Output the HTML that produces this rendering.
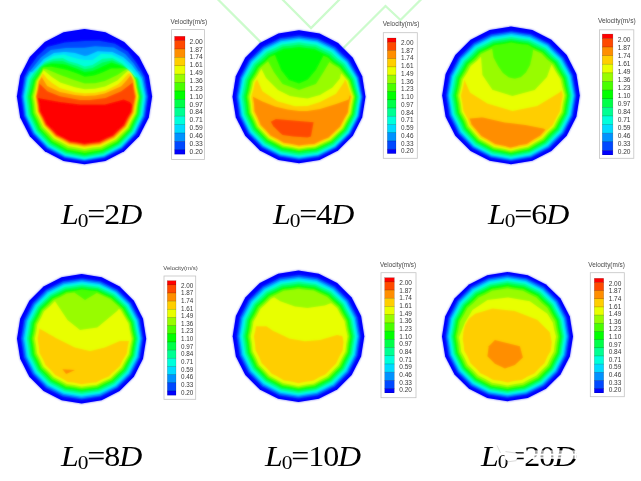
<!DOCTYPE html>
<html><head><meta charset="utf-8"><title>Velocity contours</title>
<style>
html,body{margin:0;padding:0;background:#fff;}
body{width:641px;height:481px;overflow:hidden;position:relative;font-family:"Liberation Sans",sans-serif;}
svg{position:absolute;left:0;top:0;}
svg text{font-family:"Liberation Sans",sans-serif;}
.lb{position:absolute;font-family:"Liberation Serif",serif;font-size:29.1px;line-height:1;white-space:nowrap;color:#000;letter-spacing:-1px;transform-origin:0 0;transform:scaleX(1.1);filter:blur(0.35px);}
.lb i{font-style:italic;}
.lb sub{font-size:19.5px;vertical-align:baseline;position:relative;top:2.9px;line-height:0;}
</style></head><body>
<svg width="641" height="481" viewBox="0 0 641 481">
<defs>
<filter id="bl" x="-5%" y="-5%" width="110%" height="110%"><feGaussianBlur stdDeviation="0.9"/></filter>
<filter id="bt" x="-5%" y="-20%" width="110%" height="140%"><feGaussianBlur stdDeviation="0.35"/></filter>
<filter id="bw" x="-5%" y="-20%" width="110%" height="140%"><feGaussianBlur stdDeviation="0.25"/></filter>
<filter id="bg" x="-5%" y="-5%" width="110%" height="110%"><feGaussianBlur stdDeviation="0.45"/></filter>
</defs>
<rect width="641" height="481" fill="#fff"/>
<g fill="none" stroke="#ccfbcc" stroke-width="2.3" stroke-linejoin="miter" filter="url(#bg)">
<polyline points="217.5,-1 262,43.5"/>
<polyline points="282,-1 311,28 340.5,-1.5"/>
<polyline points="343.5,48 385.5,6 400.5,20 422,-1.5"/>
</g>

<g id="pl1"><path d="M152.1,96.6 148.8,117.5 139.2,136.3 124.2,151.3 105.4,160.9 84.5,164.2 63.6,160.9 44.8,151.3 29.8,136.3 20.2,117.5 16.9,96.6 20.2,75.7 29.8,56.9 44.8,41.9 63.6,32.3 84.5,29.0 105.4,32.3 124.2,41.9 139.2,56.9 148.8,75.7Z" fill="#0000ff"/>
<path d="M98.9,40.7 84.6,41.0 65.1,42.5 47.4,47.1 37.4,56.2 29.0,68.0 24.4,77.0 21.4,96.0 21.5,97.5 24.1,116.0 32.9,134.2 47.2,148.7 64.7,157.7 83.9,161.0 85.4,160.9 104.4,157.7 121.9,148.7 122.4,148.2 136.4,134.0 145.1,116.5 148.1,96.8 144.6,76.8 140.8,69.8 136.4,62.7 127.7,51.5 114.9,43.7Z" fill="#0049ff"/>
<path d="M95.2,46.3 84.4,47.8 65.9,48.0 50.9,50.1 40.9,57.6 30.4,70.5 29.9,71.0 29.2,71.2 25.7,77.5 22.6,96.5 25.2,115.8 33.7,133.3 47.3,147.5 64.9,156.9 84.4,160.2 104.2,156.9 121.7,147.7 135.4,133.5 144.0,116.0 146.8,96.8 143.1,77.5 139.2,71.0 138.7,71.0 138.4,70.8 133.7,63.6 125.2,53.9 113.7,47.5Z" fill="#0092ff"/>
<path d="M97.7,51.3 87.7,55.5 84.7,56.0 74.9,53.0 65.9,52.1 63.7,52.1 53.9,53.0 43.9,59.1 32.2,71.8 31.9,72.0 30.4,72.0 27.0,78.0 23.7,96.5 26.2,115.5 34.5,132.8 47.9,146.8 65.2,156.0 84.4,159.4 103.9,156.0 121.2,146.9 134.4,133.1 142.9,115.5 145.5,96.5 142.2,80.0 141.7,78.2 137.4,72.1 136.6,71.5 131.9,64.9 123.4,57.3 112.4,51.9Z" fill="#00dbff"/>
<path d="M101.4,53.8 92.4,60.0 84.4,60.0 77.6,58.8 68.9,56.3 63.7,54.4 53.7,55.7 45.9,60.6 33.4,73.0 31.7,73.0 28.3,78.2 24.9,96.8 27.3,115.2 35.4,132.2 48.7,146.1 65.4,155.2 84.4,158.7 103.7,155.2 120.7,146.0 133.7,132.2 141.8,115.2 144.2,96.5 140.8,80.5 140.0,78.5 135.7,73.1 130.2,67.2 122.4,60.0 111.4,54.5Z" fill="#00ffdb"/>
<path d="M62.7,58.1 53.7,58.8 44.4,62.3 33.9,72.8 29.9,79.0 26.3,96.8 28.6,114.8 36.5,131.5 49.2,145.0 65.7,154.0 84.4,157.6 103.2,154.2 119.9,145.2 132.7,131.8 140.7,114.8 143.0,96.5 139.5,81.0 138.8,79.0 137.2,77.0 135.2,77.0 132.6,73.8 122.4,63.6 112.4,58.0 102.4,58.8 92.4,65.0 84.7,66.4 77.2,63.6 68.8,61.2Z" fill="#00ff92"/>
<path d="M111.4,60.4 102.4,62.6 92.4,68.0 84.7,69.3 77.4,66.3 68.9,63.6 65.9,62.3 62.4,61.1 53.9,61.2 50.9,61.7 44.4,63.9 39.2,67.8 38.7,69.2 31.8,79.5 27.9,96.5 30.1,114.2 37.7,130.5 50.2,143.8 66.2,152.7 84.7,156.2 102.9,152.9 118.9,144.3 131.7,130.9 139.4,114.5 141.7,96.8 137.9,79.5 136.3,77.2 134.9,77.0 132.4,73.8 126.9,68.3 122.7,65.0 112.7,60.5Z" fill="#00ff49"/>
<path d="M111.4,62.6 102.7,66.2 98.7,68.3 92.4,70.9 84.7,72.1 76.9,68.7 66.2,64.8 62.4,64.1 53.9,63.6 50.9,63.6 44.4,65.6 41.5,67.0 40.7,70.3 33.7,80.2 29.6,96.5 30.8,105.5 31.6,113.8 39.1,129.8 44.7,135.5 51.2,142.7 58.7,146.7 66.7,151.3 84.7,154.9 102.4,151.6 118.2,143.2 130.7,130.0 138.3,114.0 139.3,105.2 140.5,96.8 136.8,79.8 135.4,77.5 134.7,77.0 132.4,74.0 126.9,68.5 122.4,65.9 112.7,62.9Z" fill="#00ff00"/>
<path d="M51.2,66.7 44.2,67.3 42.9,67.5 42.7,67.8 41.9,71.0 35.2,80.8 31.2,96.8 32.3,104.8 33.1,113.2 36.8,120.8 40.2,128.5 52.0,141.2 59.8,145.5 67.2,149.7 84.7,153.1 93.3,151.5 101.9,150.1 109.7,145.9 117.3,142.0 129.6,129.2 133.3,121.2 137.1,113.8 138.2,105.2 139.5,96.5 137.7,88.8 135.9,79.8 132.7,74.5 127.7,69.4 126.9,68.9 122.7,68.2 117.4,68.5 111.4,68.5 104.9,71.6 98.9,74.1 95.2,75.3 91.9,76.1 84.7,76.8 76.9,73.6 65.9,69.7Z" fill="#49ff00"/>
<path d="M43.2,68.9 42.3,71.5 36.2,81.0 34.6,88.8 32.6,96.5 33.9,105.0 34.6,112.8 38.2,120.0 41.7,127.8 47.1,133.2 53.2,139.9 60.1,143.5 67.9,148.0 75.4,149.2 84.7,151.1 92.7,149.6 101.4,148.4 108.9,144.4 116.4,140.7 128.6,128.5 132.0,121.2 136.2,113.4 137.3,105.2 138.7,96.5 136.8,88.0 135.4,80.0 131.7,73.5 127.7,69.5 124.1,70.5 117.4,75.0 104.9,81.0 95.2,83.3 84.7,83.5 72.5,79.5 60.2,75.1 47.4,69.5 43.9,68.8Z" fill="#98fc00"/>
<path d="M43.4,70.3 41.2,74.7 37.2,81.2 35.9,88.8 34.1,96.5 35.3,104.5 36.1,112.2 39.7,119.2 43.1,126.8 48.5,132.2 54.2,138.4 61.4,142.1 68.4,146.1 76.4,147.4 84.4,149.0 92.9,147.6 100.7,146.7 108.2,142.9 115.7,139.3 120.9,134.0 127.5,127.8 131.0,120.8 135.2,113.0 136.3,105.2 138.0,96.5 136.0,87.5 134.8,80.2 130.9,73.0 129.2,71.2 128.2,71.0 127.4,71.2 123.9,74.2 117.4,80.4 105.2,86.6 94.9,88.8 84.7,89.2 74.9,87.3 60.2,82.4 51.9,77.1 43.9,70.5Z" fill="#e8ff00"/>
<path d="M129.2,73.2 127.9,74.0 121.4,81.2 117.7,84.5 105.2,90.8 94.9,92.8 84.7,93.3 74.9,92.2 59.9,87.9 52.2,82.9 47.2,78.8 43.9,74.5 42.9,73.5 42.7,73.6 38.0,81.5 36.9,88.5 35.2,96.7 36.4,104.0 37.3,112.0 40.8,118.8 44.1,126.0 49.4,131.2 55.0,137.2 61.9,140.8 68.9,144.7 76.7,145.8 84.4,147.4 92.4,146.2 100.4,145.3 107.4,141.7 114.7,138.4 120.7,132.5 126.6,127.0 130.1,120.0 134.2,112.8 135.4,105.2 137.1,96.5 135.2,87.5 134.2,80.5 130.7,73.7 130.4,73.4Z" fill="#ffce00"/>
<path d="M130.4,75.4 126.9,80.1 121.2,86.3 105.9,93.1 104.7,93.6 95.2,95.5 84.7,96.0 74.7,94.9 59.9,92.0 47.2,86.1 41.7,77.0 38.8,81.8 37.6,89.0 35.9,96.5 37.2,104.2 38.1,111.8 41.5,118.2 44.9,125.5 50.3,130.8 55.4,136.3 62.9,140.1 69.2,143.6 76.9,144.8 84.4,146.3 92.4,145.0 99.9,144.2 107.2,140.6 114.2,137.5 119.9,131.7 125.7,126.5 129.2,119.5 133.2,112.5 134.4,104.8 136.1,96.5 134.3,87.8 133.3,80.8 130.7,75.5Z" fill="#ff8e00"/>
<path d="M132.7,82.4 121.2,91.3 105.4,97.9 89.9,100.0 79.9,100.0 59.9,96.2 47.4,91.2 39.4,83.4 38.0,90.5 36.6,96.5 37.9,104.0 38.8,111.5 42.2,117.8 45.6,125.0 50.9,130.0 56.2,135.7 62.7,138.8 69.7,142.7 77.2,143.7 84.4,145.1 92.2,143.9 99.7,143.2 106.2,139.9 113.6,136.5 118.4,131.7 124.9,125.8 128.2,119.2 132.3,112.0 133.4,104.5 135.1,96.8 133.6,88.8Z" fill="#ff4800"/>
<path d="M37.8,98.5 38.8,104.2 39.6,111.2 43.1,117.5 46.2,124.2 51.7,129.5 56.7,134.8 63.2,137.9 69.9,141.6 77.4,142.6 84.4,144.0 91.4,142.9 99.4,142.1 106.2,138.6 112.9,135.7 117.4,131.2 124.0,125.2 127.2,118.8 131.3,111.8 132.3,105.2 132.0,104.5 129.9,101.9 123.7,99.4 104.9,104.4 80.2,104.5 60.1,102.0 37.9,98.1Z" fill="#ff0000"/></g><use href="#pl1" filter="url(#bl)" opacity="0.6"/>
<g id="pl2"><path d="M365.5,96.8 362.2,117.3 352.8,135.8 338.1,150.5 319.5,160.0 299.0,163.2 278.5,160.0 259.9,150.5 245.2,135.8 235.8,117.3 232.5,96.8 235.8,76.2 245.2,57.7 259.9,43.0 278.5,33.5 299.0,30.2 319.5,33.5 338.1,43.0 352.8,57.7 362.2,76.2Z" fill="#0000ff"/>
<path d="M299.2,35.6 280.0,38.3 263.0,46.8 249.1,60.2 239.9,77.5 236.5,96.8 239.4,116.0 248.1,133.5 261.9,147.5 279.5,156.6 299.0,159.7 318.5,156.9 336.0,148.1 350.2,134.1 359.4,116.2 362.6,96.8 358.7,77.0 349.1,60.2 341.9,53.8 335.2,47.1 317.8,38.4 307.8,37.0Z" fill="#0049ff"/>
<path d="M299.0,37.2 280.5,39.8 263.8,48.1 250.2,61.0 241.1,78.0 237.8,96.8 240.6,115.8 249.2,133.0 262.5,146.5 280.0,155.6 299.0,158.7 318.2,155.8 335.5,147.2 349.5,133.5 358.5,116.0 361.7,96.8 357.8,77.8 347.9,61.0 340.8,54.8 334.2,48.3 317.5,39.9Z" fill="#0092ff"/>
<path d="M299.0,38.8 281.0,41.3 264.5,49.2 251.2,62.0 242.4,78.2 239.0,96.8 241.7,115.2 250.0,132.2 263.2,145.8 280.2,154.6 299.0,157.7 318.0,154.9 334.9,146.5 348.7,133.0 357.7,115.7 360.8,96.8 356.6,77.8 347.0,61.9 339.8,55.8 333.5,49.6 317.0,41.4Z" fill="#00dbff"/>
<path d="M299.0,40.3 281.5,42.7 265.5,50.4 252.4,62.8 243.6,78.8 240.2,96.8 242.8,115.0 250.9,131.5 263.8,144.8 280.5,153.6 299.0,156.6 317.5,154.0 334.3,145.8 348.0,132.5 356.8,115.5 359.9,96.8 355.7,78.2 345.8,62.5 338.8,56.9 332.5,50.7 316.5,42.8Z" fill="#00ffdb"/>
<path d="M299.0,42.3 282.0,44.5 274.5,48.2 266.5,51.8 260.1,58.0 253.7,63.8 245.1,79.2 241.6,96.8 244.1,114.5 252.0,130.8 264.6,143.8 281.0,152.3 299.0,155.4 317.2,152.8 333.8,144.8 347.0,131.9 355.7,115.2 358.9,96.8 354.5,78.8 344.5,63.6 337.5,58.2 331.2,52.1 323.5,48.5 316.0,44.7 307.0,43.5Z" fill="#00ff92"/>
<path d="M299.0,44.6 290.5,45.8 282.8,46.6 275.2,50.2 267.8,53.6 261.6,59.5 255.3,65.0 251.3,72.2 246.9,79.8 245.3,88.2 243.4,96.8 244.7,105.2 245.7,114.0 253.3,129.8 265.6,142.5 281.5,150.9 299.0,153.8 316.8,151.4 333.0,143.6 346.0,131.0 354.5,114.8 357.6,96.8 353.0,79.2 342.9,64.8 336.0,59.8 330.0,53.9 322.5,50.5 315.2,46.8 307.0,45.9Z" fill="#00ff49"/>
<path d="M299.0,46.9 291.0,48.0 283.5,48.7 276.1,52.2 269.0,55.3 263.0,61.0 257.0,66.1 253.2,73.0 248.6,80.5 247.1,88.2 245.1,96.8 246.4,105.0 247.3,113.5 251.1,121.0 254.6,128.8 266.5,141.2 282.0,149.4 290.5,150.7 299.0,152.3 307.5,151.1 316.2,150.0 332.1,142.5 344.9,130.2 353.2,114.4 356.3,96.8 351.5,79.8 341.5,66.0 334.5,61.3 328.8,55.7 321.5,52.4 314.5,48.9 306.5,48.1Z" fill="#00ff00"/>
<path d="M274.8,55.1 270.0,57.0 264.5,62.2 258.4,67.2 254.8,73.8 250.3,81.0 248.8,88.5 246.8,96.8 247.9,104.8 248.8,113.0 252.5,120.5 255.9,128.0 267.5,140.2 274.2,143.6 282.5,148.1 290.8,149.3 299.0,150.9 307.2,149.7 315.8,148.8 331.5,141.4 343.9,129.5 352.1,114.0 353.5,105.5 355.1,96.8 350.1,80.0 340.0,67.0 333.0,62.6 327.8,57.4 323.5,55.7 316.2,69.8 308.2,79.2 307.2,80.1 299.2,83.6 298.8,83.6 288.7,80.0 281.1,70.2Z" fill="#49ff00"/>
<path d="M268.0,61.4 259.8,68.2 256.1,74.8 251.9,81.2 250.1,89.5 248.2,96.8 249.4,104.5 250.2,112.5 253.8,120.0 257.0,127.3 268.2,139.1 275.5,142.8 282.8,146.8 290.8,148.0 299.0,149.7 307.0,148.5 315.5,147.6 323.0,144.0 330.8,140.5 343.1,128.8 346.9,121.2 351.1,113.8 352.5,105.0 354.1,96.8 348.9,80.5 347.7,79.0 338.7,68.0 331.9,64.0 329.5,61.9 323.6,72.0 316.0,84.0 299.0,90.0 282.5,84.0 273.8,72.1 268.2,61.5Z" fill="#98fc00"/>
<path d="M261.0,69.5 257.7,75.2 253.3,82.0 251.8,89.0 249.7,96.8 250.8,104.0 251.6,112.2 254.9,119.0 258.0,126.2 269.0,138.0 275.8,141.4 283.2,145.6 291.0,146.8 299.0,148.4 306.8,147.3 315.0,146.5 322.8,142.8 330.1,139.5 342.2,128.0 345.8,121.0 350.1,113.2 351.4,105.0 353.0,96.8 349.7,87.5 347.7,81.0 341.2,73.6 341.0,73.8 340.8,74.5 340.0,78.6 332.5,87.5 320.0,95.0 307.5,98.5 299.0,97.5 290.0,96.0 278.0,90.0 266.0,78.0 261.5,69.0Z" fill="#e8ff00"/>
<path d="M257.2,79.2 254.9,82.5 253.4,89.2 251.2,96.8 252.3,104.0 252.9,111.8 256.1,118.2 259.2,125.6 269.8,136.8 277.0,140.5 283.5,144.2 291.5,145.5 299.0,147.1 306.6,146.0 314.8,145.3 321.8,141.9 329.2,138.6 341.1,127.5 345.1,119.8 349.0,113.0 350.2,105.0 351.9,96.8 348.5,87.8 346.4,81.5 344.8,79.5 344.2,81.9 336.0,93.8 320.0,102.0 307.5,106.0 295.0,106.2 277.5,101.2 262.5,91.3 257.5,80.2Z" fill="#ffce00"/>
<path d="M350.0,95.0 349.3,96.8 348.8,99.2 348.0,99.8 347.5,99.8 347.3,100.0 336.1,104.0 320.0,109.0 307.5,111.0 299.0,111.0 287.5,109.5 275.0,106.5 262.5,101.5 253.0,96.8 253.0,97.5 253.2,98.0 253.5,100.8 253.7,101.2 253.8,102.8 254.0,103.2 254.5,111.3 258.0,118.2 258.2,119.3 259.5,121.8 259.5,122.3 260.0,123.0 260.5,124.8 265.5,129.8 270.5,135.5 278.5,139.5 283.8,142.8 290.8,143.8 299.0,145.5 300.0,145.5 300.2,145.3 301.5,145.2 302.0,145.0 303.5,145.0 303.8,144.8 305.5,144.8 306.0,144.5 307.8,144.5 308.2,144.3 314.0,144.0 322.2,140.0 328.0,137.8 328.5,137.5 335.5,130.8 340.0,126.8 344.5,118.0 347.8,112.6 349.0,104.0 349.2,103.6 350.0,99.0 350.2,98.8 350.3,97.8 350.5,97.5 350.5,96.2 350.0,95.5Z" fill="#ff8e00"/>
<path d="M273.3,126.3 279.3,132.3 282.5,135.0 293.0,136.6 307.5,137.5 311.0,136.6 313.6,122.3 275.9,118.9 270.7,121.7Z" fill="#ff4800"/></g><use href="#pl2" filter="url(#bl)" opacity="0.6"/>
<g id="pl3"><path d="M579.8,95.4 576.4,116.7 566.7,135.8 551.4,151.1 532.3,160.8 511.0,164.2 489.7,160.8 470.6,151.1 455.3,135.8 445.6,116.7 442.2,95.4 445.6,74.1 455.3,55.0 470.6,39.7 489.7,30.0 511.0,26.6 532.3,30.0 551.4,39.7 566.7,55.0 576.4,74.1Z" fill="#0000ff"/>
<path d="M511.4,31.2 491.2,34.2 473.7,43.1 473.2,43.4 459.0,57.5 449.6,75.4 446.2,95.4 449.3,115.3 449.5,115.9 454.9,126.3 458.3,133.4 472.6,148.1 490.7,157.6 510.9,161.0 531.2,157.6 549.5,148.0 563.7,133.6 572.8,115.9 576.2,95.4 572.6,75.1 563.4,57.6 549.0,43.4 531.0,34.2Z" fill="#0049ff"/>
<path d="M511.2,32.6 491.7,35.7 474.2,44.5 467.2,51.6 460.1,58.4 450.9,75.9 447.5,95.4 450.6,115.1 456.1,125.9 459.4,132.9 473.2,147.1 491.2,156.6 510.9,159.9 531.0,156.5 548.7,147.0 555.5,140.0 562.7,132.9 571.7,115.4 575.0,95.4 571.5,75.6 562.2,58.3 555.0,51.4 548.2,44.6 530.5,35.6Z" fill="#0092ff"/>
<path d="M511.2,34.1 491.9,37.1 475.0,45.8 468.2,52.6 461.3,59.1 452.1,76.4 448.7,95.4 451.8,114.6 457.2,125.1 460.4,132.1 473.9,146.3 491.5,155.5 510.9,158.9 530.5,155.5 548.0,146.1 554.6,139.1 561.7,132.2 570.7,114.9 573.9,95.4 570.4,76.1 561.1,59.1 554.0,52.4 547.3,45.6 530.0,36.9Z" fill="#00dbff"/>
<path d="M511.2,35.5 492.4,38.4 475.7,47.0 469.3,53.6 462.5,60.0 453.4,76.6 450.0,95.4 453.0,114.4 458.3,124.6 461.4,131.4 474.6,145.4 491.7,154.5 510.9,157.9 530.2,154.4 547.4,145.1 553.9,138.1 560.7,131.6 569.5,114.6 572.8,95.4 569.1,76.4 560.0,59.9 553.0,53.4 546.5,46.7 529.5,38.3Z" fill="#00ffdb"/>
<path d="M511.2,37.1 492.9,40.0 484.9,44.2 476.9,48.1 470.3,54.9 463.8,60.9 454.8,77.1 451.4,95.4 454.3,113.9 459.5,123.9 462.4,130.4 475.4,144.4 492.2,153.4 511.0,156.8 529.7,153.3 546.5,144.1 552.8,137.4 559.7,130.6 568.3,114.1 571.5,95.4 567.8,76.9 558.7,60.6 552.0,54.5 545.6,48.1 529.0,39.8 520.0,38.6Z" fill="#00ff92"/>
<path d="M511.2,38.9 493.5,41.7 486.2,45.6 477.7,49.8 471.7,56.0 465.2,61.9 456.4,77.6 454.8,86.6 453.0,95.4 455.8,113.4 460.9,123.1 463.7,129.6 476.2,143.1 492.7,152.1 510.9,155.5 529.5,151.9 545.7,142.9 551.9,136.1 558.5,129.9 562.5,121.9 567.0,113.6 570.1,95.4 566.4,77.3 561.7,69.4 557.5,61.7 550.7,55.7 544.5,49.4 536.7,45.7 528.5,41.5 519.7,40.3Z" fill="#00ff49"/>
<path d="M511.2,40.7 502.9,42.2 493.9,43.5 486.4,47.5 478.9,51.1 472.9,57.4 466.4,63.1 462.4,70.6 458.0,78.1 456.4,86.9 454.5,95.4 456.1,104.4 457.3,112.9 462.3,122.3 464.9,128.7 476.9,141.9 493.0,150.8 511.0,154.2 529.0,150.7 537.2,145.9 544.7,141.9 550.8,135.1 557.2,129.0 561.4,120.9 565.5,113.4 568.6,95.4 566.6,86.3 564.9,77.9 560.4,70.4 556.1,62.6 549.5,56.9 543.5,50.9 535.2,46.9 528.0,43.2 519.5,42.1Z" fill="#00ff00"/>
<path d="M511.2,42.5 503.4,43.9 494.5,45.2 487.2,49.1 480.0,52.6 474.2,58.6 467.9,64.0 463.8,71.6 459.6,78.6 458.0,87.1 456.1,95.3 457.7,104.1 458.8,112.4 463.7,121.6 466.2,127.9 477.9,140.9 485.7,145.1 493.4,149.5 502.0,151.0 511.0,152.9 520.5,150.9 528.5,149.4 544.0,140.6 549.7,134.1 556.1,128.1 560.0,120.4 564.1,112.9 567.2,95.4 565.1,86.4 563.5,78.4 559.0,71.1 554.7,63.6 548.3,58.1 542.5,52.2 534.5,48.5 527.5,44.8 519.2,43.9Z" fill="#49ff00"/>
<path d="M492.0,48.7 480.9,54.1 475.5,59.9 469.3,65.1 465.5,72.1 461.2,79.1 459.6,87.4 457.7,95.4 459.2,103.8 460.3,111.9 465.1,120.9 467.5,127.1 478.7,139.7 486.4,143.9 493.7,148.2 502.9,149.9 510.9,151.7 519.7,149.7 528.2,148.0 535.2,143.8 543.1,139.4 548.7,132.9 554.7,127.4 558.8,119.4 562.8,112.4 564.2,103.6 565.8,95.4 563.6,86.6 562.0,78.9 557.3,71.4 553.4,64.6 547.1,59.4 541.4,53.6 533.2,49.8 532.4,55.1 530.1,64.9 526.0,72.6 521.0,77.1 520.5,77.2 515.0,78.8 508.9,77.5 502.9,73.0 498.0,66.1 493.5,57.4 492.2,49.3Z" fill="#98fc00"/>
<path d="M480.7,57.0 476.7,61.2 470.8,66.1 467.0,72.9 462.8,79.6 461.2,87.6 459.3,95.4 460.8,103.6 461.8,111.4 466.5,120.1 468.7,126.1 479.7,138.7 486.7,142.5 494.2,146.9 502.7,148.5 510.9,150.4 520.0,148.3 527.7,146.8 535.0,142.3 542.2,138.3 547.7,131.9 553.7,126.4 557.3,119.1 561.4,111.9 562.7,103.6 564.4,95.4 562.1,86.9 560.5,79.4 555.8,72.1 552.1,65.6 551.2,64.9 551.0,65.1 551.0,66.1 547.0,77.0 534.7,89.9 512.5,96.0 493.1,90.1 492.4,89.9 492.2,89.6 482.4,75.0 481.0,56.9Z" fill="#e8ff00"/>
<path d="M464.7,79.9 464.4,80.4 462.9,87.6 460.9,95.4 462.4,103.4 463.4,110.9 467.8,119.1 469.9,125.1 480.4,137.4 487.7,141.3 494.7,145.6 502.4,147.0 510.9,149.0 519.5,147.0 527.3,145.4 534.5,140.9 541.2,137.1 546.4,130.9 552.4,125.4 556.0,118.4 560.0,111.3 561.2,103.4 562.8,95.4 561.5,90.5 561.2,90.5 559.5,92.6 537.2,106.0 512.5,111.0 487.4,103.6 470.7,92.9 469.9,92.2 465.2,81.4Z" fill="#ffce00"/>
<path d="M481.2,117.4 470.2,118.4 469.7,118.6 469.7,119.1 469.9,119.4 469.9,119.9 470.2,120.1 470.2,120.6 470.4,120.9 470.5,121.4 470.7,121.6 471.4,124.2 481.4,136.1 487.7,139.4 495.2,144.1 502.5,145.4 502.7,145.6 504.7,145.9 504.9,146.1 505.7,146.1 506.0,146.4 506.7,146.4 510.0,147.4 510.7,147.4 510.9,147.6 514.0,146.7 514.7,146.6 515.0,146.4 517.7,145.9 518.0,145.6 526.8,143.9 533.2,139.7 540.4,135.6 545.5,129.4 543.2,128.4 525.5,124.9 504.7,122.4 482.9,117.4Z" fill="#ff8e00"/></g><use href="#pl3" filter="url(#bl)" opacity="0.6"/>
<g id="pl4"><path d="M146.2,338.8 143.0,358.7 133.9,376.7 119.6,391.0 101.6,400.2 81.6,403.4 61.6,400.2 43.6,391.0 29.3,376.7 20.2,358.7 17.0,338.8 20.2,318.8 29.3,300.8 43.6,286.5 61.6,277.3 81.6,274.1 101.6,277.3 119.6,286.5 133.9,300.8 143.0,318.8Z" fill="#0000ff"/>
<path d="M79.7,278.7 63.0,281.3 46.2,289.7 32.8,303.1 24.1,319.9 21.0,338.6 23.9,357.4 32.4,374.1 32.8,374.6 46.0,387.9 62.8,396.5 81.5,399.6 100.8,396.6 117.5,388.1 131.0,374.7 139.9,357.6 142.9,338.6 139.7,319.6 130.9,302.9 117.5,289.8 100.5,281.2 82.2,278.5Z" fill="#0049ff"/>
<path d="M81.8,279.9 63.5,282.7 47.0,291.0 34.0,304.0 25.5,320.4 22.5,338.6 25.4,357.1 33.8,373.6 46.8,386.7 63.1,395.1 81.5,398.2 100.1,395.4 116.8,387.0 130.0,374.0 138.6,357.4 141.7,338.6 138.5,320.1 129.8,303.6 116.7,290.9 99.8,282.5Z" fill="#0092ff"/>
<path d="M81.8,281.4 63.8,284.2 48.0,292.2 35.1,304.9 26.9,320.9 24.0,338.6 26.7,356.6 35.0,372.9 47.5,385.6 63.5,393.8 81.5,396.8 99.8,394.1 116.0,386.0 128.8,373.4 137.5,356.9 140.5,338.6 137.2,320.4 128.8,304.5 115.8,291.9 99.5,284.0Z" fill="#00dbff"/>
<path d="M81.8,282.9 64.2,285.6 48.8,293.4 36.4,305.6 28.2,321.4 25.4,338.6 28.0,356.1 36.0,372.0 48.3,384.4 64.0,392.6 81.5,395.5 99.2,392.9 115.2,385.0 127.8,372.6 136.3,356.6 139.4,338.6 136.1,320.9 127.8,305.3 115.0,293.1 99.0,285.3Z" fill="#00ffdb"/>
<path d="M81.8,284.5 64.8,287.1 57.2,291.0 49.8,294.7 37.6,306.6 29.7,321.9 28.4,330.1 26.9,338.6 29.4,355.6 37.2,371.1 49.2,383.3 64.5,391.2 81.5,394.1 99.0,391.5 114.4,383.9 126.8,371.9 135.1,356.1 138.1,338.6 134.9,321.4 126.7,306.1 114.1,294.1 98.5,286.7Z" fill="#00ff92"/>
<path d="M81.8,286.2 65.2,288.7 58.0,292.5 50.8,296.0 38.8,307.6 35.1,315.1 31.2,322.4 30.0,330.4 28.5,338.6 29.9,347.4 31.0,355.1 38.5,370.2 50.2,382.1 57.5,385.8 65.0,389.8 73.2,391.1 81.5,392.6 98.5,390.1 105.9,386.4 113.5,382.8 125.8,371.0 133.9,355.6 136.8,338.6 133.5,321.6 125.4,306.9 119.0,301.1 113.2,295.5 98.0,288.3 89.5,287.3Z" fill="#00ff49"/>
<path d="M81.8,287.9 74.0,289.2 65.8,290.3 58.9,293.9 51.8,297.3 45.4,303.6 40.2,308.5 36.4,316.1 32.7,322.9 31.6,330.6 30.1,338.6 32.6,354.9 36.2,361.9 39.6,369.1 45.5,375.0 51.0,380.8 58.5,384.6 65.5,388.4 73.5,389.6 81.5,391.1 98.0,388.8 105.1,385.1 112.8,381.6 118.5,375.9 124.6,370.1 132.6,355.4 135.5,338.6 133.8,330.4 132.3,322.4 124.1,307.6 118.0,302.1 112.2,296.6 104.5,293.2 97.5,289.8 89.2,289.0Z" fill="#00ff00"/>
<path d="M81.8,289.6 74.0,290.9 66.2,291.9 59.6,295.4 52.7,298.6 46.8,304.6 41.5,309.6 38.0,316.6 34.3,323.4 33.2,331.1 31.7,338.6 33.0,346.1 34.1,354.4 37.5,360.9 41.0,368.4 46.5,373.8 51.8,379.4 59.5,383.4 66.0,386.9 73.8,388.1 81.5,389.6 89.5,388.4 97.5,387.4 104.2,384.0 112.0,380.4 117.5,374.9 123.5,369.4 127.5,361.6 131.3,354.9 132.5,347.4 134.2,338.6 132.5,330.6 131.0,322.6 126.9,315.6 123.1,308.6 116.9,303.1 111.4,297.9 103.5,294.5 97.0,291.3 89.0,290.6Z" fill="#49ff00"/>
<path d="M74.5,292.6 66.8,293.5 60.3,296.9 53.5,300.1 48.5,305.2 42.7,310.6 39.6,317.1 35.8,323.9 34.8,331.4 33.3,338.6 34.6,346.4 35.5,353.6 39.0,360.4 42.2,367.4 47.6,372.6 52.8,378.2 60.0,381.9 66.2,385.4 74.5,386.7 81.5,388.1 89.2,386.9 97.0,386.0 103.8,382.6 111.0,379.3 116.8,373.7 122.3,368.6 129.9,354.6 132.9,338.6 131.1,330.6 129.7,323.1 125.7,316.4 121.8,309.4 116.3,304.6 110.2,299.0 96.8,293.1 96.0,293.4 85.0,300.1 75.0,292.9Z" fill="#98fc00"/>
<path d="M54.8,301.3 49.7,306.4 44.0,311.6 41.0,317.9 37.4,324.4 36.4,331.6 34.9,338.6 36.2,346.1 37.0,353.1 40.5,359.9 43.4,366.4 48.8,371.6 53.8,377.1 60.2,380.3 67.0,384.0 74.2,385.1 81.5,386.6 89.2,385.4 96.5,384.7 103.2,381.3 110.2,378.2 115.5,372.9 121.3,367.6 125.0,360.6 128.7,354.1 130.1,346.1 131.6,338.9 129.6,330.1 128.4,323.6 124.2,316.6 120.8,310.4 119.2,309.1 118.8,309.0 117.2,311.1 97.3,327.4 80.0,330.0 67.5,320.0 55.2,301.4Z" fill="#e8ff00"/>
<path d="M39.2,328.9 38.7,333.1 37.5,338.6 38.7,345.9 39.2,350.1 39.2,352.4 43.0,359.4 45.5,365.1 50.7,370.1 55.2,375.1 61.0,377.9 65.5,380.5 67.2,381.7 68.0,381.9 73.0,382.5 81.5,384.2 90.0,383.0 94.8,382.6 96.1,382.4 102.2,379.2 109.0,376.4 112.0,373.2 119.8,366.2 123.1,359.6 126.8,353.5 127.8,346.6 129.0,341.0 119.8,340.9 104.8,347.4 90.3,350.9 89.7,350.9 75.0,347.4 55.0,337.4 52.8,335.9 51.5,335.4 51.0,335.0 49.7,334.4 45.2,331.7 40.5,329.2 40.0,328.7 39.5,328.5Z" fill="#ffce00"/>
<path d="M66.2,374.0 75.0,370.0 62.4,369.2Z" fill="#ff8e00"/></g><use href="#pl4" filter="url(#bl)" opacity="0.6"/>
<g id="pl5"><path d="M364.3,336.2 361.1,356.6 351.7,374.9 337.2,389.5 318.8,398.8 298.5,402.1 278.2,398.8 259.8,389.5 245.3,374.9 235.9,356.6 232.7,336.2 235.9,315.9 245.3,297.6 259.8,283.0 278.2,273.7 298.5,270.4 318.8,273.7 337.2,283.0 351.7,297.6 361.1,315.9Z" fill="#0000ff"/>
<path d="M298.9,275.0 279.7,277.8 262.7,286.4 248.8,299.9 239.9,317.2 236.8,336.2 239.7,355.4 248.3,372.4 261.9,386.3 279.4,395.4 298.4,398.4 317.7,395.4 335.2,386.3 348.8,372.7 357.4,355.7 360.5,336.2 357.4,317.2 348.6,300.2 334.7,286.5 317.4,277.8Z" fill="#0049ff"/>
<path d="M298.7,276.7 279.9,279.5 263.4,287.7 250.0,300.9 241.3,317.7 238.3,336.2 241.1,354.9 249.5,371.7 262.8,385.2 279.7,394.0 298.4,397.1 317.2,394.1 334.4,385.2 347.6,371.9 356.1,355.2 359.1,336.2 355.9,317.4 347.2,300.8 333.9,287.8 316.9,279.3Z" fill="#0092ff"/>
<path d="M298.7,278.3 280.4,281.0 264.4,288.9 251.4,301.7 242.7,318.2 239.7,336.2 242.4,354.5 250.7,370.9 263.4,384.0 280.2,392.8 298.4,395.8 316.9,392.8 333.6,384.2 346.5,371.2 354.9,354.7 357.8,336.2 354.6,317.9 346.1,301.7 333.0,288.9 316.5,280.8Z" fill="#00dbff"/>
<path d="M298.7,279.9 280.9,282.5 265.2,290.3 252.5,302.7 244.1,318.7 241.2,336.2 243.9,354.2 251.8,370.2 264.3,382.9 280.5,391.4 298.4,394.5 316.4,391.6 332.8,383.2 345.4,370.4 353.7,354.2 356.5,336.2 353.2,318.2 344.8,302.4 332.1,290.2 315.9,282.3Z" fill="#00ffdb"/>
<path d="M298.7,281.6 281.4,284.1 273.9,287.9 266.2,291.6 253.7,303.7 245.6,319.2 244.3,327.7 242.7,336.2 245.3,353.7 252.9,369.2 265.2,381.8 280.9,390.2 298.4,393.2 315.9,390.3 331.9,382.1 344.4,369.4 352.2,353.9 355.0,336.2 351.8,318.7 343.6,303.4 331.2,291.5 315.4,283.9 306.9,282.8Z" fill="#00ff92"/>
<path d="M298.7,283.4 290.2,284.7 282.1,285.7 274.4,289.6 267.2,293.0 261.0,299.2 255.2,304.6 247.2,319.7 245.9,327.9 244.3,336.2 245.7,344.7 246.7,352.9 254.2,368.3 266.2,380.7 273.7,384.5 281.4,388.8 289.9,390.1 298.4,391.7 315.7,388.9 331.0,380.9 337.1,374.7 343.2,368.7 346.9,360.9 350.8,353.4 353.5,336.2 350.3,319.2 346.1,311.7 342.4,304.4 335.9,298.4 330.2,292.9 321.9,289.0 314.9,285.5 306.7,284.6Z" fill="#00ff49"/>
<path d="M298.2,285.2 290.5,286.4 282.7,287.4 275.2,291.2 268.2,294.4 262.2,300.4 256.4,305.7 253.0,312.4 248.8,320.2 247.5,328.2 245.9,336.2 247.2,344.0 248.3,352.7 251.9,359.9 255.5,367.4 261.4,373.4 266.9,379.3 281.9,387.4 290.2,388.7 298.4,390.3 306.9,388.8 315.2,387.5 321.9,383.9 330.3,379.7 335.9,373.7 341.9,367.9 345.8,359.9 349.5,352.9 352.0,336.2 350.3,327.9 349.0,319.9 344.9,312.7 341.0,305.3 334.8,299.7 329.2,294.2 321.2,290.6 314.4,287.2 307.2,286.4Z" fill="#00ff00"/>
<path d="M298.4,287.0 290.2,288.3 283.2,289.0 276.2,292.6 269.2,295.8 263.6,301.4 257.9,306.6 254.1,313.9 250.3,320.7 249.1,328.4 247.6,336.2 248.8,343.7 249.8,352.2 253.4,359.2 256.7,366.4 262.7,372.5 267.9,378.2 275.2,381.9 282.4,386.0 290.4,387.2 298.4,388.8 306.7,387.3 314.7,386.2 321.2,382.6 329.4,378.4 334.9,372.7 340.8,366.9 344.4,359.5 348.1,352.4 349.2,344.0 350.5,336.2 348.9,328.7 347.4,320.2 343.5,313.4 339.7,306.3 333.5,300.7 328.2,295.6 320.4,292.1 313.9,288.9 305.9,288.1Z" fill="#49ff00"/>
<path d="M298.4,288.8 290.7,290.0 283.7,290.7 277.2,294.1 270.2,297.2 264.7,302.7 259.2,307.7 255.9,314.2 251.9,321.2 250.8,328.7 249.2,336.2 250.4,343.7 251.3,351.7 254.7,358.5 257.9,365.6 263.7,371.4 268.8,376.9 276.2,380.8 282.7,384.5 291.0,385.9 298.4,387.4 306.4,385.9 314.2,384.8 321.4,380.9 328.4,377.4 333.8,371.7 339.5,366.2 343.2,358.4 346.7,351.9 347.7,343.9 349.0,336.2 347.4,328.7 345.9,320.7 342.1,314.2 338.3,307.2 332.4,302.0 327.2,296.9 319.7,293.6 313.4,290.5 305.4,289.8Z" fill="#98fc00"/>
<path d="M273.9,297.5 271.1,298.7 266.2,303.7 260.6,308.7 257.3,315.2 253.5,321.7 252.4,328.9 250.8,336.2 252.0,343.7 252.7,350.9 256.4,358.2 259.2,364.7 264.7,370.2 269.7,375.8 276.7,379.4 283.2,383.1 290.9,384.4 298.4,386.0 306.2,384.5 313.7,383.4 320.9,379.5 327.4,376.3 332.9,370.5 338.4,365.1 341.7,358.2 345.3,351.4 346.2,343.7 347.5,336.4 345.7,328.2 344.5,321.2 340.5,314.7 337.1,308.2 331.2,303.2 330.7,303.2 324.7,305.6 307.4,307.9 294.9,306.6 280.2,301.2 274.6,297.4Z" fill="#e8ff00"/>
<path d="M255.9,326.2 255.2,330.9 253.9,336.2 255.1,344.2 255.4,349.2 255.7,350.5 259.4,357.7 261.4,362.7 261.7,363.2 264.6,365.9 268.2,369.7 271.7,373.7 277.4,376.5 283.9,380.5 290.9,381.5 298.4,383.2 305.7,381.8 313.2,380.7 319.2,377.3 325.7,374.2 331.6,367.9 336.0,363.7 339.3,356.7 342.7,350.4 343.0,346.2 343.6,342.2 342.6,336.9 342.2,336.0 339.2,335.4 337.9,335.0 336.9,335.0 320.0,339.9 304.9,341.2 300.4,340.4 299.9,340.2 298.9,340.2 298.4,340.0 297.4,339.9 296.9,339.7 295.9,339.7 295.4,339.5 294.4,339.4 293.9,339.2 292.9,339.2 292.4,339.0 291.4,338.9 290.9,338.7 289.9,338.7 275.2,331.7 273.7,331.2 266.4,326.2Z" fill="#ffce00"/></g><use href="#pl5" filter="url(#bl)" opacity="0.6"/>
<g id="pl6"><path d="M573.0,336.6 569.8,356.6 560.5,374.6 546.0,388.8 527.7,398.0 507.5,401.2 487.3,398.0 469.0,388.8 454.5,374.6 445.2,356.6 442.0,336.6 445.2,316.6 454.5,298.6 469.0,284.4 487.3,275.2 507.5,272.0 527.7,275.2 546.0,284.4 560.5,298.6 569.8,316.6Z" fill="#0000ff"/>
<path d="M507.5,275.1 488.2,278.3 471.5,286.8 470.8,287.3 457.5,300.5 448.5,317.8 445.6,336.5 448.6,355.5 457.5,372.6 471.0,385.9 488.2,394.6 507.5,397.7 526.8,394.6 544.0,385.9 557.5,372.6 566.4,355.5 569.4,336.5 566.4,317.5 557.6,300.5 544.2,287.2 543.8,286.8 526.5,278.2Z" fill="#0049ff"/>
<path d="M507.5,276.6 488.8,279.6 472.0,288.2 458.5,301.5 449.9,318.3 446.9,336.5 449.9,355.0 458.5,371.8 471.9,385.0 488.8,393.5 507.5,396.5 526.2,393.5 543.1,385.0 556.5,371.8 565.1,355.0 568.1,336.5 565.1,318.0 556.6,301.5 543.2,288.3 526.2,279.6Z" fill="#0092ff"/>
<path d="M507.5,278.0 489.2,281.0 472.9,289.3 459.8,302.2 451.2,318.5 448.2,336.5 451.1,354.8 459.5,371.0 472.7,384.0 489.0,392.3 507.5,395.3 526.0,392.3 542.3,384.0 555.5,371.0 563.9,354.8 566.8,336.5 563.8,318.5 555.4,302.3 542.5,289.5 525.8,281.0Z" fill="#00dbff"/>
<path d="M507.5,279.5 489.8,282.3 473.8,290.4 460.9,303.0 452.5,319.0 449.6,336.5 452.3,354.3 460.5,370.3 473.2,382.9 489.5,391.2 507.5,394.1 525.5,391.2 541.8,382.9 554.5,370.3 562.7,354.3 565.4,336.5 562.4,318.8 554.2,303.2 547.8,296.9 541.5,290.6 525.2,282.3Z" fill="#00ffdb"/>
<path d="M507.5,281.1 490.0,283.9 474.5,291.8 468.3,298.0 462.0,304.0 453.8,319.5 450.9,336.5 453.7,354.0 461.6,369.5 474.0,381.9 490.0,390.0 507.5,392.9 525.0,390.0 541.0,381.9 553.4,369.5 561.3,354.0 564.1,336.5 561.1,319.3 553.0,304.0 546.7,298.0 540.5,291.8 524.8,283.8Z" fill="#00ff92"/>
<path d="M507.5,282.8 490.5,285.5 483.2,289.3 475.5,293.1 469.5,299.2 463.5,304.8 455.3,319.8 452.3,336.5 454.9,353.5 462.7,368.8 474.8,380.8 490.2,388.8 507.5,391.6 524.8,388.8 540.2,380.8 552.3,368.8 560.1,353.5 562.7,336.5 559.7,319.8 555.5,312.3 551.7,305.0 545.5,299.2 539.7,293.3 524.2,285.4 516.0,284.2Z" fill="#00ff49"/>
<path d="M507.5,284.5 491.0,287.1 483.8,290.9 476.5,294.4 470.8,300.3 464.7,305.8 460.6,313.5 456.7,320.3 455.3,328.5 453.7,336.5 456.2,353.1 460.0,360.2 463.8,367.9 469.8,373.8 475.5,379.7 490.8,387.6 499.0,388.8 507.5,390.4 516.0,388.8 524.2,387.6 539.5,379.7 545.2,373.8 551.2,367.9 555.0,360.2 558.8,353.1 561.3,336.5 559.7,328.5 558.3,320.3 554.4,313.5 550.3,305.8 544.2,300.3 538.6,294.5 531.0,290.8 523.8,287.0 515.5,285.9Z" fill="#00ff00"/>
<path d="M507.5,286.3 499.0,287.8 491.7,288.8 484.8,292.5 477.8,295.8 472.0,301.6 466.2,306.8 462.0,314.5 458.3,320.8 456.9,328.8 455.3,336.5 457.7,352.8 461.4,359.8 464.9,367.0 471.0,372.9 476.3,378.5 491.2,386.2 499.2,387.4 507.5,388.9 515.8,387.4 523.8,386.2 538.7,378.5 544.0,372.9 550.1,367.0 553.6,359.8 557.3,352.8 559.7,336.5 558.1,328.8 556.7,320.8 552.6,313.8 549.0,307.0 543.0,301.6 537.6,296.0 529.8,292.3 523.2,288.8 515.2,287.7Z" fill="#49ff00"/>
<path d="M507.5,288.3 500.2,289.6 492.2,290.7 485.8,294.2 478.8,297.5 473.4,303.0 467.6,308.0 464.1,314.5 460.0,321.4 458.6,329.0 456.9,336.5 458.4,345.0 459.2,352.1 462.9,359.0 466.3,366.0 472.2,371.8 477.4,377.3 484.8,380.9 491.8,384.7 500.2,385.9 507.5,387.3 514.8,385.9 523.2,384.7 530.2,380.9 537.6,377.3 542.8,371.8 548.7,366.0 552.1,359.0 555.8,352.1 556.6,345.0 558.1,336.5 556.4,329.0 554.9,321.3 550.9,314.5 547.4,308.0 541.6,303.0 536.3,297.5 529.5,294.3 522.8,290.7 514.8,289.6Z" fill="#98fc00"/>
<path d="M508.0,297.5 487.5,300.0 472.5,310.0 465.0,322.4 459.1,337.3 460.3,344.0 461.2,351.5 464.7,358.0 467.9,364.8 473.8,370.5 478.5,375.6 486.0,379.3 492.2,382.8 500.0,383.9 507.5,385.4 515.0,383.9 522.8,382.8 529.0,379.3 536.5,375.6 541.8,370.0 547.0,365.0 550.4,357.8 553.8,351.5 554.7,344.0 556.0,336.5 554.2,329.8 552.8,322.7 547.5,314.0 547.0,313.5 529.8,301.2Z" fill="#e8ff00"/>
<path d="M492.5,308.6 475.0,313.7 468.8,318.7 465.0,325.2 463.2,332.7 463.2,334.8 463.0,335.5 462.9,337.8 462.7,338.5 462.8,339.8 463.7,345.3 464.0,349.3 464.2,350.8 467.5,356.5 470.5,363.3 476.5,369.0 480.4,373.3 487.2,376.6 492.2,379.5 493.2,380.0 501.0,381.1 507.5,382.5 514.0,381.1 521.8,380.0 528.2,376.3 534.3,373.5 540.0,367.5 544.5,363.3 547.5,356.5 550.8,350.8 551.8,342.3 549.8,332.3 537.5,320.1 536.5,319.6 514.8,311.1Z" fill="#ffce00"/>
<path d="M488.7,346.2 487.4,356.2 494.9,363.7 504.9,368.6 514.9,364.9 522.9,357.4 519.9,346.2 494.9,339.9Z" fill="#ff8e00"/></g><use href="#pl6" filter="url(#bl)" opacity="0.6"/>
<g filter="url(#bt)">
<rect x="171.60" y="29.60" width="32.90" height="129.90" fill="#fff" stroke="#c4c4c4" stroke-width="0.8"/>
<rect x="174.60" y="36.30" width="10.40" height="4.50" fill="#ff0000"/>
<rect x="174.60" y="40.50" width="10.40" height="8.71" fill="#ff4800"/>
<rect x="174.60" y="48.91" width="10.40" height="8.71" fill="#ff8e00"/>
<rect x="174.60" y="57.32" width="10.40" height="8.71" fill="#ffce00"/>
<rect x="174.60" y="65.72" width="10.40" height="8.71" fill="#e8ff00"/>
<rect x="174.60" y="74.13" width="10.40" height="8.71" fill="#98fc00"/>
<rect x="174.60" y="82.54" width="10.40" height="8.71" fill="#49ff00"/>
<rect x="174.60" y="90.95" width="10.40" height="8.71" fill="#00ff00"/>
<rect x="174.60" y="99.35" width="10.40" height="8.71" fill="#00ff49"/>
<rect x="174.60" y="107.76" width="10.40" height="8.71" fill="#00ff92"/>
<rect x="174.60" y="116.17" width="10.40" height="8.71" fill="#00ffdb"/>
<rect x="174.60" y="124.58" width="10.40" height="8.71" fill="#00dbff"/>
<rect x="174.60" y="132.98" width="10.40" height="8.71" fill="#0092ff"/>
<rect x="174.60" y="141.39" width="10.40" height="8.71" fill="#0049ff"/>
<rect x="174.60" y="149.80" width="10.40" height="4.50" fill="#0000ff"/>
<rect x="174.60" y="40.20" width="10.40" height="0.6" fill="#000" fill-opacity="0.3"/>
<rect x="174.60" y="48.61" width="10.40" height="0.6" fill="#000" fill-opacity="0.3"/>
<rect x="174.60" y="57.02" width="10.40" height="0.6" fill="#000" fill-opacity="0.3"/>
<rect x="174.60" y="65.42" width="10.40" height="0.6" fill="#000" fill-opacity="0.3"/>
<rect x="174.60" y="73.83" width="10.40" height="0.6" fill="#000" fill-opacity="0.3"/>
<rect x="174.60" y="82.24" width="10.40" height="0.6" fill="#000" fill-opacity="0.3"/>
<rect x="174.60" y="90.65" width="10.40" height="0.6" fill="#000" fill-opacity="0.3"/>
<rect x="174.60" y="99.05" width="10.40" height="0.6" fill="#000" fill-opacity="0.3"/>
<rect x="174.60" y="107.46" width="10.40" height="0.6" fill="#000" fill-opacity="0.3"/>
<rect x="174.60" y="115.87" width="10.40" height="0.6" fill="#000" fill-opacity="0.3"/>
<rect x="174.60" y="124.28" width="10.40" height="0.6" fill="#000" fill-opacity="0.3"/>
<rect x="174.60" y="132.68" width="10.40" height="0.6" fill="#000" fill-opacity="0.3"/>
<rect x="174.60" y="141.09" width="10.40" height="0.6" fill="#000" fill-opacity="0.3"/>
<rect x="174.60" y="149.50" width="10.40" height="0.6" fill="#000" fill-opacity="0.3"/>
<rect x="174.60" y="36.30" width="10.40" height="117.70" fill="none" stroke="#000" stroke-opacity="0.28" stroke-width="0.5"/>
<text x="188.80" y="24.44" font-size="6.4" text-anchor="middle" fill="#484848">Velocity(m/s)</text>
<text x="189.60" y="43.71" font-size="6.7" fill="#383838">2.00</text>
<text x="189.60" y="51.57" font-size="6.7" fill="#383838">1.87</text>
<text x="189.60" y="59.43" font-size="6.7" fill="#383838">1.74</text>
<text x="189.60" y="67.28" font-size="6.7" fill="#383838">1.61</text>
<text x="189.60" y="75.14" font-size="6.7" fill="#383838">1.49</text>
<text x="189.60" y="83.00" font-size="6.7" fill="#383838">1.36</text>
<text x="189.60" y="90.85" font-size="6.7" fill="#383838">1.23</text>
<text x="189.60" y="98.71" font-size="6.7" fill="#383838">1.10</text>
<text x="189.60" y="106.57" font-size="6.7" fill="#383838">0.97</text>
<text x="189.60" y="114.43" font-size="6.7" fill="#383838">0.84</text>
<text x="189.60" y="122.28" font-size="6.7" fill="#383838">0.71</text>
<text x="189.60" y="130.14" font-size="6.7" fill="#383838">0.59</text>
<text x="189.60" y="138.00" font-size="6.7" fill="#383838">0.46</text>
<text x="189.60" y="145.85" font-size="6.7" fill="#383838">0.33</text>
<text x="189.60" y="153.71" font-size="6.7" fill="#383838">0.20</text>
<rect x="383.30" y="32.70" width="34.00" height="125.60" fill="#fff" stroke="#c4c4c4" stroke-width="0.8"/>
<rect x="387.30" y="38.00" width="8.70" height="4.42" fill="#ff0000"/>
<rect x="387.30" y="42.12" width="8.70" height="8.54" fill="#ff4800"/>
<rect x="387.30" y="50.35" width="8.70" height="8.54" fill="#ff8e00"/>
<rect x="387.30" y="58.59" width="8.70" height="8.54" fill="#ffce00"/>
<rect x="387.30" y="66.83" width="8.70" height="8.54" fill="#e8ff00"/>
<rect x="387.30" y="75.06" width="8.70" height="8.54" fill="#98fc00"/>
<rect x="387.30" y="83.30" width="8.70" height="8.54" fill="#49ff00"/>
<rect x="387.30" y="91.53" width="8.70" height="8.54" fill="#00ff00"/>
<rect x="387.30" y="99.77" width="8.70" height="8.54" fill="#00ff49"/>
<rect x="387.30" y="108.00" width="8.70" height="8.54" fill="#00ff92"/>
<rect x="387.30" y="116.24" width="8.70" height="8.54" fill="#00ffdb"/>
<rect x="387.30" y="124.47" width="8.70" height="8.54" fill="#00dbff"/>
<rect x="387.30" y="132.71" width="8.70" height="8.54" fill="#0092ff"/>
<rect x="387.30" y="140.95" width="8.70" height="8.54" fill="#0049ff"/>
<rect x="387.30" y="149.18" width="8.70" height="4.42" fill="#0000ff"/>
<rect x="387.30" y="41.82" width="8.70" height="0.6" fill="#000" fill-opacity="0.3"/>
<rect x="387.30" y="50.05" width="8.70" height="0.6" fill="#000" fill-opacity="0.3"/>
<rect x="387.30" y="58.29" width="8.70" height="0.6" fill="#000" fill-opacity="0.3"/>
<rect x="387.30" y="66.53" width="8.70" height="0.6" fill="#000" fill-opacity="0.3"/>
<rect x="387.30" y="74.76" width="8.70" height="0.6" fill="#000" fill-opacity="0.3"/>
<rect x="387.30" y="83.00" width="8.70" height="0.6" fill="#000" fill-opacity="0.3"/>
<rect x="387.30" y="91.23" width="8.70" height="0.6" fill="#000" fill-opacity="0.3"/>
<rect x="387.30" y="99.47" width="8.70" height="0.6" fill="#000" fill-opacity="0.3"/>
<rect x="387.30" y="107.70" width="8.70" height="0.6" fill="#000" fill-opacity="0.3"/>
<rect x="387.30" y="115.94" width="8.70" height="0.6" fill="#000" fill-opacity="0.3"/>
<rect x="387.30" y="124.17" width="8.70" height="0.6" fill="#000" fill-opacity="0.3"/>
<rect x="387.30" y="132.41" width="8.70" height="0.6" fill="#000" fill-opacity="0.3"/>
<rect x="387.30" y="140.65" width="8.70" height="0.6" fill="#000" fill-opacity="0.3"/>
<rect x="387.30" y="148.88" width="8.70" height="0.6" fill="#000" fill-opacity="0.3"/>
<rect x="387.30" y="38.00" width="8.70" height="115.30" fill="none" stroke="#000" stroke-opacity="0.28" stroke-width="0.5"/>
<text x="401.00" y="26.24" font-size="6.4" text-anchor="middle" fill="#484848">Velocity(m/s)</text>
<text x="401.00" y="45.00" font-size="6.4" fill="#383838">2.00</text>
<text x="401.00" y="52.74" font-size="6.4" fill="#383838">1.87</text>
<text x="401.00" y="60.48" font-size="6.4" fill="#383838">1.74</text>
<text x="401.00" y="68.21" font-size="6.4" fill="#383838">1.61</text>
<text x="401.00" y="75.95" font-size="6.4" fill="#383838">1.49</text>
<text x="401.00" y="83.68" font-size="6.4" fill="#383838">1.36</text>
<text x="401.00" y="91.42" font-size="6.4" fill="#383838">1.23</text>
<text x="401.00" y="99.15" font-size="6.4" fill="#383838">1.10</text>
<text x="401.00" y="106.89" font-size="6.4" fill="#383838">0.97</text>
<text x="401.00" y="114.63" font-size="6.4" fill="#383838">0.84</text>
<text x="401.00" y="122.36" font-size="6.4" fill="#383838">0.71</text>
<text x="401.00" y="130.10" font-size="6.4" fill="#383838">0.59</text>
<text x="401.00" y="137.83" font-size="6.4" fill="#383838">0.46</text>
<text x="401.00" y="145.57" font-size="6.4" fill="#383838">0.33</text>
<text x="401.00" y="153.30" font-size="6.4" fill="#383838">0.20</text>
<rect x="599.60" y="29.80" width="34.20" height="128.50" fill="#fff" stroke="#c4c4c4" stroke-width="0.8"/>
<rect x="602.25" y="34.06" width="10.65" height="4.61" fill="#ff0000"/>
<rect x="602.25" y="38.37" width="10.65" height="8.92" fill="#ff4800"/>
<rect x="602.25" y="46.99" width="10.65" height="8.92" fill="#ff8e00"/>
<rect x="602.25" y="55.60" width="10.65" height="8.92" fill="#ffce00"/>
<rect x="602.25" y="64.22" width="10.65" height="8.92" fill="#e8ff00"/>
<rect x="602.25" y="72.84" width="10.65" height="8.92" fill="#98fc00"/>
<rect x="602.25" y="81.45" width="10.65" height="8.92" fill="#49ff00"/>
<rect x="602.25" y="90.07" width="10.65" height="8.92" fill="#00ff00"/>
<rect x="602.25" y="98.69" width="10.65" height="8.92" fill="#00ff49"/>
<rect x="602.25" y="107.31" width="10.65" height="8.92" fill="#00ff92"/>
<rect x="602.25" y="115.92" width="10.65" height="8.92" fill="#00ffdb"/>
<rect x="602.25" y="124.54" width="10.65" height="8.92" fill="#00dbff"/>
<rect x="602.25" y="133.16" width="10.65" height="8.92" fill="#0092ff"/>
<rect x="602.25" y="141.77" width="10.65" height="8.92" fill="#0049ff"/>
<rect x="602.25" y="150.39" width="10.65" height="4.61" fill="#0000ff"/>
<rect x="602.25" y="38.07" width="10.65" height="0.6" fill="#000" fill-opacity="0.3"/>
<rect x="602.25" y="46.69" width="10.65" height="0.6" fill="#000" fill-opacity="0.3"/>
<rect x="602.25" y="55.30" width="10.65" height="0.6" fill="#000" fill-opacity="0.3"/>
<rect x="602.25" y="63.92" width="10.65" height="0.6" fill="#000" fill-opacity="0.3"/>
<rect x="602.25" y="72.54" width="10.65" height="0.6" fill="#000" fill-opacity="0.3"/>
<rect x="602.25" y="81.15" width="10.65" height="0.6" fill="#000" fill-opacity="0.3"/>
<rect x="602.25" y="89.77" width="10.65" height="0.6" fill="#000" fill-opacity="0.3"/>
<rect x="602.25" y="98.39" width="10.65" height="0.6" fill="#000" fill-opacity="0.3"/>
<rect x="602.25" y="107.01" width="10.65" height="0.6" fill="#000" fill-opacity="0.3"/>
<rect x="602.25" y="115.62" width="10.65" height="0.6" fill="#000" fill-opacity="0.3"/>
<rect x="602.25" y="124.24" width="10.65" height="0.6" fill="#000" fill-opacity="0.3"/>
<rect x="602.25" y="132.86" width="10.65" height="0.6" fill="#000" fill-opacity="0.3"/>
<rect x="602.25" y="141.47" width="10.65" height="0.6" fill="#000" fill-opacity="0.3"/>
<rect x="602.25" y="150.09" width="10.65" height="0.6" fill="#000" fill-opacity="0.3"/>
<rect x="602.25" y="34.06" width="10.65" height="120.64" fill="none" stroke="#000" stroke-opacity="0.28" stroke-width="0.5"/>
<text x="616.80" y="23.11" font-size="6.6" text-anchor="middle" fill="#484848">Velocity(m/s)</text>
<text x="617.70" y="42.08" font-size="6.6" fill="#383838">2.00</text>
<text x="617.70" y="50.08" font-size="6.6" fill="#383838">1.87</text>
<text x="617.70" y="58.09" font-size="6.6" fill="#383838">1.74</text>
<text x="617.70" y="66.10" font-size="6.6" fill="#383838">1.61</text>
<text x="617.70" y="74.10" font-size="6.6" fill="#383838">1.49</text>
<text x="617.70" y="82.11" font-size="6.6" fill="#383838">1.36</text>
<text x="617.70" y="90.12" font-size="6.6" fill="#383838">1.23</text>
<text x="617.70" y="98.13" font-size="6.6" fill="#383838">1.10</text>
<text x="617.70" y="106.13" font-size="6.6" fill="#383838">0.97</text>
<text x="617.70" y="114.14" font-size="6.6" fill="#383838">0.84</text>
<text x="617.70" y="122.15" font-size="6.6" fill="#383838">0.71</text>
<text x="617.70" y="130.15" font-size="6.6" fill="#383838">0.59</text>
<text x="617.70" y="138.16" font-size="6.6" fill="#383838">0.46</text>
<text x="617.70" y="146.17" font-size="6.6" fill="#383838">0.33</text>
<text x="617.70" y="154.18" font-size="6.6" fill="#383838">0.20</text>
<rect x="164.00" y="276.00" width="31.70" height="123.30" fill="#fff" stroke="#c4c4c4" stroke-width="0.8"/>
<rect x="167.30" y="280.70" width="8.70" height="4.38" fill="#ff0000"/>
<rect x="167.30" y="284.78" width="8.70" height="8.46" fill="#ff4800"/>
<rect x="167.30" y="292.95" width="8.70" height="8.46" fill="#ff8e00"/>
<rect x="167.30" y="301.11" width="8.70" height="8.46" fill="#ffce00"/>
<rect x="167.30" y="309.27" width="8.70" height="8.46" fill="#e8ff00"/>
<rect x="167.30" y="317.44" width="8.70" height="8.46" fill="#98fc00"/>
<rect x="167.30" y="325.60" width="8.70" height="8.46" fill="#49ff00"/>
<rect x="167.30" y="333.77" width="8.70" height="8.46" fill="#00ff00"/>
<rect x="167.30" y="341.93" width="8.70" height="8.46" fill="#00ff49"/>
<rect x="167.30" y="350.10" width="8.70" height="8.46" fill="#00ff92"/>
<rect x="167.30" y="358.26" width="8.70" height="8.46" fill="#00ffdb"/>
<rect x="167.30" y="366.42" width="8.70" height="8.46" fill="#00dbff"/>
<rect x="167.30" y="374.59" width="8.70" height="8.46" fill="#0092ff"/>
<rect x="167.30" y="382.75" width="8.70" height="8.46" fill="#0049ff"/>
<rect x="167.30" y="390.92" width="8.70" height="4.38" fill="#0000ff"/>
<rect x="167.30" y="284.48" width="8.70" height="0.6" fill="#000" fill-opacity="0.3"/>
<rect x="167.30" y="292.65" width="8.70" height="0.6" fill="#000" fill-opacity="0.3"/>
<rect x="167.30" y="300.81" width="8.70" height="0.6" fill="#000" fill-opacity="0.3"/>
<rect x="167.30" y="308.97" width="8.70" height="0.6" fill="#000" fill-opacity="0.3"/>
<rect x="167.30" y="317.14" width="8.70" height="0.6" fill="#000" fill-opacity="0.3"/>
<rect x="167.30" y="325.30" width="8.70" height="0.6" fill="#000" fill-opacity="0.3"/>
<rect x="167.30" y="333.47" width="8.70" height="0.6" fill="#000" fill-opacity="0.3"/>
<rect x="167.30" y="341.63" width="8.70" height="0.6" fill="#000" fill-opacity="0.3"/>
<rect x="167.30" y="349.80" width="8.70" height="0.6" fill="#000" fill-opacity="0.3"/>
<rect x="167.30" y="357.96" width="8.70" height="0.6" fill="#000" fill-opacity="0.3"/>
<rect x="167.30" y="366.12" width="8.70" height="0.6" fill="#000" fill-opacity="0.3"/>
<rect x="167.30" y="374.29" width="8.70" height="0.6" fill="#000" fill-opacity="0.3"/>
<rect x="167.30" y="382.45" width="8.70" height="0.6" fill="#000" fill-opacity="0.3"/>
<rect x="167.30" y="390.62" width="8.70" height="0.6" fill="#000" fill-opacity="0.3"/>
<rect x="167.30" y="280.70" width="8.70" height="114.30" fill="none" stroke="#000" stroke-opacity="0.28" stroke-width="0.5"/>
<text x="180.50" y="269.90" font-size="6.0" text-anchor="middle" fill="#484848">Velocity(m/s)</text>
<text x="181.00" y="287.57" font-size="6.3" fill="#383838">2.00</text>
<text x="181.00" y="295.21" font-size="6.3" fill="#383838">1.87</text>
<text x="181.00" y="302.85" font-size="6.3" fill="#383838">1.74</text>
<text x="181.00" y="310.50" font-size="6.3" fill="#383838">1.61</text>
<text x="181.00" y="318.14" font-size="6.3" fill="#383838">1.49</text>
<text x="181.00" y="325.78" font-size="6.3" fill="#383838">1.36</text>
<text x="181.00" y="333.43" font-size="6.3" fill="#383838">1.23</text>
<text x="181.00" y="341.07" font-size="6.3" fill="#383838">1.10</text>
<text x="181.00" y="348.71" font-size="6.3" fill="#383838">0.97</text>
<text x="181.00" y="356.35" font-size="6.3" fill="#383838">0.84</text>
<text x="181.00" y="364.00" font-size="6.3" fill="#383838">0.71</text>
<text x="181.00" y="371.64" font-size="6.3" fill="#383838">0.59</text>
<text x="181.00" y="379.28" font-size="6.3" fill="#383838">0.46</text>
<text x="181.00" y="386.93" font-size="6.3" fill="#383838">0.33</text>
<text x="181.00" y="394.57" font-size="6.3" fill="#383838">0.20</text>
<rect x="381.00" y="272.70" width="35.00" height="125.00" fill="#fff" stroke="#c4c4c4" stroke-width="0.8"/>
<rect x="384.70" y="277.70" width="9.60" height="4.41" fill="#ff0000"/>
<rect x="384.70" y="281.81" width="9.60" height="8.51" fill="#ff4800"/>
<rect x="384.70" y="290.02" width="9.60" height="8.51" fill="#ff8e00"/>
<rect x="384.70" y="298.24" width="9.60" height="8.51" fill="#ffce00"/>
<rect x="384.70" y="306.45" width="9.60" height="8.51" fill="#e8ff00"/>
<rect x="384.70" y="314.66" width="9.60" height="8.51" fill="#98fc00"/>
<rect x="384.70" y="322.88" width="9.60" height="8.51" fill="#49ff00"/>
<rect x="384.70" y="331.09" width="9.60" height="8.51" fill="#00ff00"/>
<rect x="384.70" y="339.31" width="9.60" height="8.51" fill="#00ff49"/>
<rect x="384.70" y="347.52" width="9.60" height="8.51" fill="#00ff92"/>
<rect x="384.70" y="355.74" width="9.60" height="8.51" fill="#00ffdb"/>
<rect x="384.70" y="363.95" width="9.60" height="8.51" fill="#00dbff"/>
<rect x="384.70" y="372.16" width="9.60" height="8.51" fill="#0092ff"/>
<rect x="384.70" y="380.38" width="9.60" height="8.51" fill="#0049ff"/>
<rect x="384.70" y="388.59" width="9.60" height="4.41" fill="#0000ff"/>
<rect x="384.70" y="281.51" width="9.60" height="0.6" fill="#000" fill-opacity="0.3"/>
<rect x="384.70" y="289.72" width="9.60" height="0.6" fill="#000" fill-opacity="0.3"/>
<rect x="384.70" y="297.94" width="9.60" height="0.6" fill="#000" fill-opacity="0.3"/>
<rect x="384.70" y="306.15" width="9.60" height="0.6" fill="#000" fill-opacity="0.3"/>
<rect x="384.70" y="314.36" width="9.60" height="0.6" fill="#000" fill-opacity="0.3"/>
<rect x="384.70" y="322.58" width="9.60" height="0.6" fill="#000" fill-opacity="0.3"/>
<rect x="384.70" y="330.79" width="9.60" height="0.6" fill="#000" fill-opacity="0.3"/>
<rect x="384.70" y="339.01" width="9.60" height="0.6" fill="#000" fill-opacity="0.3"/>
<rect x="384.70" y="347.22" width="9.60" height="0.6" fill="#000" fill-opacity="0.3"/>
<rect x="384.70" y="355.44" width="9.60" height="0.6" fill="#000" fill-opacity="0.3"/>
<rect x="384.70" y="363.65" width="9.60" height="0.6" fill="#000" fill-opacity="0.3"/>
<rect x="384.70" y="371.86" width="9.60" height="0.6" fill="#000" fill-opacity="0.3"/>
<rect x="384.70" y="380.08" width="9.60" height="0.6" fill="#000" fill-opacity="0.3"/>
<rect x="384.70" y="388.29" width="9.60" height="0.6" fill="#000" fill-opacity="0.3"/>
<rect x="384.70" y="277.70" width="9.60" height="115.00" fill="none" stroke="#000" stroke-opacity="0.28" stroke-width="0.5"/>
<text x="398.00" y="267.00" font-size="6.3" text-anchor="middle" fill="#484848">Velocity(m/s)</text>
<text x="399.30" y="285.04" font-size="6.5" fill="#383838">2.00</text>
<text x="399.30" y="292.70" font-size="6.5" fill="#383838">1.87</text>
<text x="399.30" y="300.37" font-size="6.5" fill="#383838">1.74</text>
<text x="399.30" y="308.03" font-size="6.5" fill="#383838">1.61</text>
<text x="399.30" y="315.70" font-size="6.5" fill="#383838">1.49</text>
<text x="399.30" y="323.36" font-size="6.5" fill="#383838">1.36</text>
<text x="399.30" y="331.03" font-size="6.5" fill="#383838">1.23</text>
<text x="399.30" y="338.69" font-size="6.5" fill="#383838">1.10</text>
<text x="399.30" y="346.35" font-size="6.5" fill="#383838">0.97</text>
<text x="399.30" y="354.02" font-size="6.5" fill="#383838">0.84</text>
<text x="399.30" y="361.68" font-size="6.5" fill="#383838">0.71</text>
<text x="399.30" y="369.35" font-size="6.5" fill="#383838">0.59</text>
<text x="399.30" y="377.01" font-size="6.5" fill="#383838">0.46</text>
<text x="399.30" y="384.68" font-size="6.5" fill="#383838">0.33</text>
<text x="399.30" y="392.34" font-size="6.5" fill="#383838">0.20</text>
<rect x="590.30" y="272.70" width="34.00" height="124.00" fill="#fff" stroke="#c4c4c4" stroke-width="0.8"/>
<rect x="594.30" y="278.30" width="9.40" height="4.39" fill="#ff0000"/>
<rect x="594.30" y="282.39" width="9.40" height="8.47" fill="#ff4800"/>
<rect x="594.30" y="290.56" width="9.40" height="8.47" fill="#ff8e00"/>
<rect x="594.30" y="298.73" width="9.40" height="8.47" fill="#ffce00"/>
<rect x="594.30" y="306.90" width="9.40" height="8.47" fill="#e8ff00"/>
<rect x="594.30" y="315.07" width="9.40" height="8.47" fill="#98fc00"/>
<rect x="594.30" y="323.24" width="9.40" height="8.47" fill="#49ff00"/>
<rect x="594.30" y="331.41" width="9.40" height="8.47" fill="#00ff00"/>
<rect x="594.30" y="339.59" width="9.40" height="8.47" fill="#00ff49"/>
<rect x="594.30" y="347.76" width="9.40" height="8.47" fill="#00ff92"/>
<rect x="594.30" y="355.93" width="9.40" height="8.47" fill="#00ffdb"/>
<rect x="594.30" y="364.10" width="9.40" height="8.47" fill="#00dbff"/>
<rect x="594.30" y="372.27" width="9.40" height="8.47" fill="#0092ff"/>
<rect x="594.30" y="380.44" width="9.40" height="8.47" fill="#0049ff"/>
<rect x="594.30" y="388.61" width="9.40" height="4.39" fill="#0000ff"/>
<rect x="594.30" y="282.09" width="9.40" height="0.6" fill="#000" fill-opacity="0.3"/>
<rect x="594.30" y="290.26" width="9.40" height="0.6" fill="#000" fill-opacity="0.3"/>
<rect x="594.30" y="298.43" width="9.40" height="0.6" fill="#000" fill-opacity="0.3"/>
<rect x="594.30" y="306.60" width="9.40" height="0.6" fill="#000" fill-opacity="0.3"/>
<rect x="594.30" y="314.77" width="9.40" height="0.6" fill="#000" fill-opacity="0.3"/>
<rect x="594.30" y="322.94" width="9.40" height="0.6" fill="#000" fill-opacity="0.3"/>
<rect x="594.30" y="331.11" width="9.40" height="0.6" fill="#000" fill-opacity="0.3"/>
<rect x="594.30" y="339.29" width="9.40" height="0.6" fill="#000" fill-opacity="0.3"/>
<rect x="594.30" y="347.46" width="9.40" height="0.6" fill="#000" fill-opacity="0.3"/>
<rect x="594.30" y="355.63" width="9.40" height="0.6" fill="#000" fill-opacity="0.3"/>
<rect x="594.30" y="363.80" width="9.40" height="0.6" fill="#000" fill-opacity="0.3"/>
<rect x="594.30" y="371.97" width="9.40" height="0.6" fill="#000" fill-opacity="0.3"/>
<rect x="594.30" y="380.14" width="9.40" height="0.6" fill="#000" fill-opacity="0.3"/>
<rect x="594.30" y="388.31" width="9.40" height="0.6" fill="#000" fill-opacity="0.3"/>
<rect x="594.30" y="278.30" width="9.40" height="114.40" fill="none" stroke="#000" stroke-opacity="0.28" stroke-width="0.5"/>
<text x="606.60" y="267.34" font-size="6.4" text-anchor="middle" fill="#484848">Velocity(m/s)</text>
<text x="608.70" y="285.64" font-size="6.5" fill="#383838">2.00</text>
<text x="608.70" y="293.26" font-size="6.5" fill="#383838">1.87</text>
<text x="608.70" y="300.88" font-size="6.5" fill="#383838">1.74</text>
<text x="608.70" y="308.50" font-size="6.5" fill="#383838">1.61</text>
<text x="608.70" y="316.13" font-size="6.5" fill="#383838">1.49</text>
<text x="608.70" y="323.75" font-size="6.5" fill="#383838">1.36</text>
<text x="608.70" y="331.37" font-size="6.5" fill="#383838">1.23</text>
<text x="608.70" y="338.99" font-size="6.5" fill="#383838">1.10</text>
<text x="608.70" y="346.61" font-size="6.5" fill="#383838">0.97</text>
<text x="608.70" y="354.23" font-size="6.5" fill="#383838">0.84</text>
<text x="608.70" y="361.85" font-size="6.5" fill="#383838">0.71</text>
<text x="608.70" y="369.48" font-size="6.5" fill="#383838">0.59</text>
<text x="608.70" y="377.10" font-size="6.5" fill="#383838">0.46</text>
<text x="608.70" y="384.72" font-size="6.5" fill="#383838">0.33</text>
<text x="608.70" y="392.34" font-size="6.5" fill="#383838">0.20</text>
</g>
</svg>
<div class="lb" style="left:60.5px;top:200.4px"><i>L</i><sub>0</sub>=2<i>D</i></div>
<div class="lb" style="left:272.8px;top:200.1px"><i>L</i><sub>0</sub>=4<i>D</i></div>
<div class="lb" style="left:488.1px;top:200.1px"><i>L</i><sub>0</sub>=6<i>D</i></div>
<div class="lb" style="left:60.9px;top:442.1px"><i>L</i><sub>0</sub>=8<i>D</i></div>
<div class="lb" style="left:265.3px;top:442.3px"><i>L</i><sub>0</sub>=10<i>D</i></div>
<div class="lb" style="left:480.8px;top:441.6px"><i>L</i><sub>0</sub>=20<i>D</i></div>
<svg width="641" height="481" viewBox="0 0 641 481" style="pointer-events:none"><g><ellipse cx="511" cy="456.3" rx="6.6" ry="5.2" fill="#fff"/><ellipse cx="504.2" cy="452.6" rx="3.2" ry="2.4" fill="#fff"/><rect x="517" y="450.6" width="7" height="1.6" fill="#fff"/><rect x="526" y="453.7" width="52" height="1.7" fill="#fff"/><rect x="526" y="457.3" width="36" height="1.3" fill="#fff"/><rect x="526" y="450.4" width="52" height="1.1" fill="#fff" fill-opacity="0.8"/><rect x="525" y="451.2" width="53.5" height="7.6" fill="#fff" fill-opacity="0.6"/><rect x="527.75" y="450.8" width="1.7" height="8.2" fill="#fff"/><rect x="532.65" y="450.8" width="1.7" height="8.2" fill="#fff"/><rect x="537.55" y="450.8" width="1.7" height="8.2" fill="#fff"/><rect x="544.65" y="450.8" width="1.7" height="8.2" fill="#fff"/><rect x="548.95" y="450.8" width="1.7" height="8.2" fill="#fff"/><rect x="553.35" y="450.8" width="1.7" height="8.2" fill="#fff"/><rect x="561.65" y="450.8" width="1.7" height="8.2" fill="#fff"/><rect x="566.15" y="450.8" width="1.7" height="8.2" fill="#fff"/><rect x="570.65" y="450.8" width="1.7" height="8.2" fill="#fff"/><rect x="574.65" y="450.8" width="1.7" height="8.2" fill="#fff"/><path d="M497 445.5 L500.5 453 M505.5 451.6 L517 453.2 M505 462.3 L516.5 460.6" stroke="#aaa" stroke-width="0.45" fill="none"/></g></svg>
</body></html>
